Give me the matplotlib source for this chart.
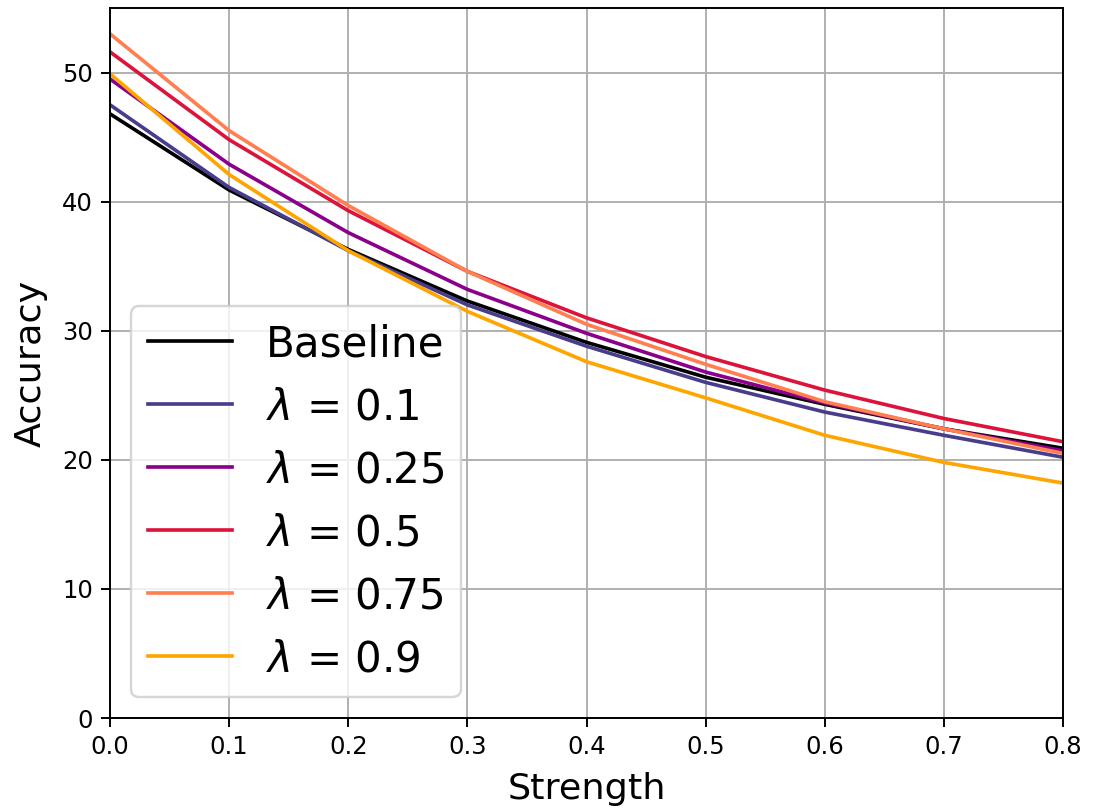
import matplotlib
matplotlib.use("Agg")
import matplotlib.pyplot as plt

strength = [0.0, 0.1, 0.2, 0.3, 0.4, 0.5, 0.6, 0.7, 0.8]

baseline = [46.8, 40.9, 36.3, 32.3, 29.1, 26.4, 24.3, 22.4, 20.9]
lam_01   = [47.5, 41.1, 36.2, 32.0, 28.8, 26.0, 23.7, 21.9, 20.2]
lam_025  = [49.5, 42.9, 37.6, 33.2, 29.8, 26.8, 24.4, 22.4, 20.7]
lam_05   = [51.6, 44.8, 39.3, 34.6, 31.0, 28.0, 25.4, 23.2, 21.4]
lam_075  = [53.0, 45.5, 39.7, 34.6, 30.5, 27.4, 24.5, 22.4, 20.5]
lam_09   = [49.9, 42.1, 36.2, 31.5, 27.6, 24.8, 21.9, 19.8, 18.2]

series = [
    ("Baseline", baseline, "black"),
    (r"$\lambda$ = 0.1", lam_01, "darkslateblue"),
    (r"$\lambda$ = 0.25", lam_025, "darkmagenta"),
    (r"$\lambda$ = 0.5", lam_05, "crimson"),
    (r"$\lambda$ = 0.75", lam_075, "coral"),
    (r"$\lambda$ = 0.9", lam_09, "orange"),
]

fig = plt.figure(figsize=(1093 / 175, 812 / 175), dpi=175)
ax = fig.add_axes([110 / 1093, 94 / 812, 953 / 1093, 710 / 812])

for label, vals, color in series:
    ax.plot(strength, vals, color=color, label=label)

ax.set_xlim(0, 0.8)
ax.set_ylim(0, 55)
ax.set_xticks(strength)
ax.set_yticks([0, 10, 20, 30, 40, 50])
ax.grid(True)
ax.set_xlabel("Strength", fontsize=15, labelpad=5.5)
ax.set_ylabel("Accuracy", fontsize=15, labelpad=6)
ax.legend(loc="lower left", fontsize=17.3)

fig.savefig("out.png", dpi=175)
